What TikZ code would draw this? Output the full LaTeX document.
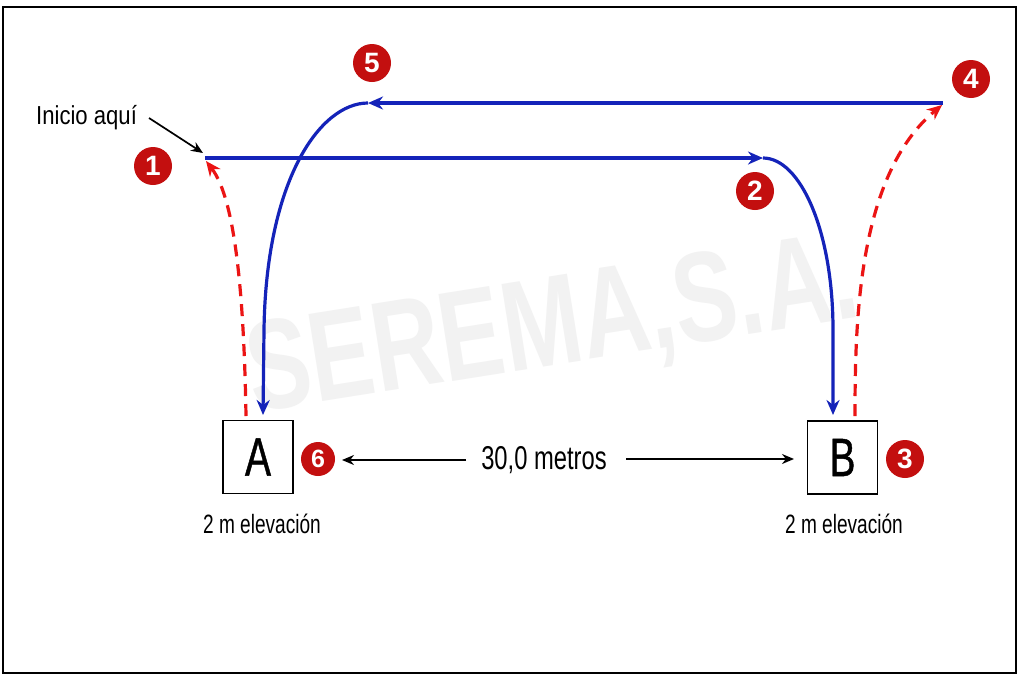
\documentclass[tikz,border=0pt]{standalone}
\usepackage{fontspec}
\setmainfont{Liberation Sans}
\newfontfamily\condA[FakeStretch=0.85]{Liberation Sans}
\newfontfamily\condB[FakeStretch=0.72]{Liberation Sans}
\newfontfamily\condC[FakeStretch=0.72,FakeBold=0.8]{Liberation Sans}
\newfontfamily\wmfont[FakeStretch=0.74]{Liberation Sans}
\usetikzlibrary{arrows.meta}
\definecolor{pathblue}{RGB}{20,35,185}
\definecolor{pathred}{RGB}{235,20,20}
\definecolor{numred}{RGB}{195,15,15}
\definecolor{wmgray}{RGB}{242,242,242}
\begin{document}
\begin{tikzpicture}[x=1pt,y=-1pt,
  bluepath/.style={draw=pathblue,line width=3.2pt,-{Stealth[length=15pt,width=13pt]}},
  redpath/.style={draw=pathred,line width=3.2pt,dash pattern=on 12pt off 8pt,-{Stealth[length=15pt,width=13pt]}},
  blackarrow/.style={draw=black,line width=1.7pt,-{Stealth[length=12pt,width=10pt]}},
  numcircle/.style={circle,fill=numred,text=white,minimum size=38pt,inner sep=0pt,font=\bfseries\fontsize{28}{28}\selectfont},
  posbox/.style={draw=black,line width=1.7pt,minimum width=70pt,minimum height=73pt,inner sep=0pt,font=\condC\fontsize{54}{54}\selectfont},
  elev/.style={inner sep=0pt,font=\condB\fontsize{26.5}{26.5}\selectfont}
]
\useasboundingbox (0,0) rectangle (1024,683);
\fill[white] (0,0) rectangle (1024,683);
% watermark
\node[font=\wmfont\bfseries\fontsize{128}{128}\selectfont,text=wmgray,rotate=9,inner sep=0pt] (wm) at (553,330) {SEREMA,S.A.};
% frame
\draw[line width=2pt] (3,6.5) rectangle (1015.5,673);
% boxes
\node[posbox] (A) at (258,457) {A};
\node[posbox] (B) at (842.5,457.5) {B};
\node[elev,anchor=base] (elA) at (262,533) {2 m elevación};
\node[elev,anchor=base] (elB) at (844,533) {2 m elevación};
\node[inner sep=0pt,anchor=base,font=\condB\fontsize{33}{33}\selectfont] (dist) at (544,469) {30,0 metros};
\node[inner sep=0pt,anchor=base west,font=\condA\fontsize{26}{26}\selectfont] (inicio) at (36,124) {Inicio aquí};
% numbers
\node[numcircle] (n1) at (153,166) {1};
\node[numcircle] (n2) at (755,191) {2};
\node[numcircle] (n3) at (905,459) {3};
\node[numcircle] (n4) at (971,79) {4};
\node[numcircle] (n5) at (372,63) {5};
\node[numcircle,minimum size=34pt,font=\bfseries\fontsize{25}{25}\selectfont] (n6) at (318,459) {6};
% coordinates
\coordinate (s1) at (205,158);
\coordinate (t2) at (763,158);
\coordinate (bIn) at (833,415);
\coordinate (bOut) at (855,416);
\coordinate (t4) at (942,105);
\coordinate (s4) at (943,103);
\coordinate (t5) at (368,103);
\coordinate (aIn) at (263,415);
\coordinate (aOut) at (246,416);
\coordinate (t1) at (206,161);
\coordinate (ia) at (149,118);
\coordinate (iaT) at (203,153);
\coordinate (dL) at (466,460);
\coordinate (dLt) at (342,460);
\coordinate (dR) at (626,459);
\coordinate (dRt) at (794,459);
% paths
\draw[bluepath] (s1) -- (t2);
\draw[bluepath] (t2) .. controls (800,158) and (833,230) .. (833,330) -- (bIn);
\draw[redpath] (bOut) .. controls (855,320) and (858,175) .. (t4);
\draw[bluepath] (s4) -- (t5);
\draw[bluepath] (t5) .. controls (320,103) and (266,180) .. (264,330) -- (aIn);
\draw[redpath] (aOut) .. controls (244,300) and (236,200) .. (t1);
% black arrows
\draw[blackarrow] (ia) -- (iaT);
\draw[blackarrow] (dL) -- (dLt);
\draw[blackarrow] (dR) -- (dRt);
\end{tikzpicture}
\end{document}
